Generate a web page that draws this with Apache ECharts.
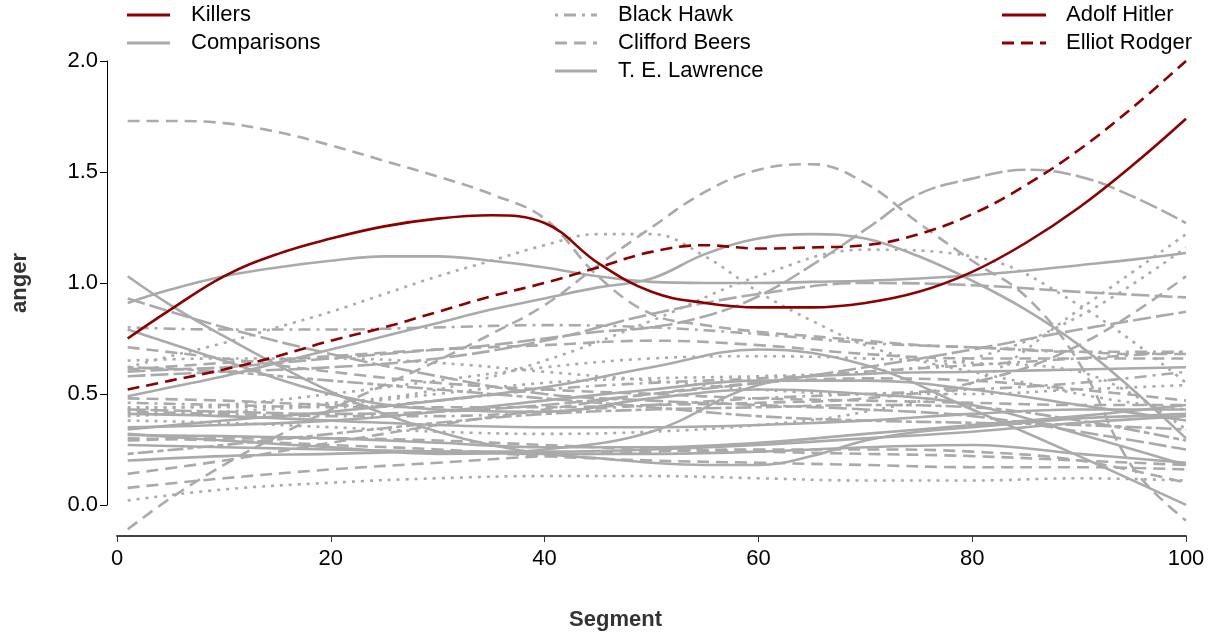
<!DOCTYPE html>
<html>
<head>
<meta charset="utf-8">
<script src="https://cdn.jsdelivr.net/npm/echarts@6/dist/echarts.min.js"></script>
<style>
html,body{margin:0;padding:0;background:#fff;}
#chart{width:1215px;height:637px;}
</style>
</head>
<body>
<div id="chart"></div>
<script>
// ---- x positions (segments) ----
const segFine = [1,5,10,15,20,25,30,35,40,45,50,55,60,65,70,75,80,85,90,95,100];
const segCoarse = [1,10,20,30,40,50,60,70,80,90,100];

// ---- killers ----
const adolfHitler  = [0.75,0.88,1.03,1.13,1.20,1.255,1.29,1.305,1.27,1.09,0.96,0.91,0.89,0.89,0.91,0.96,1.05,1.18,1.34,1.53,1.74];
const elliotRodger = [0.52,0.56,0.61,0.67,0.74,0.80,0.87,0.94,1.00,1.07,1.14,1.17,1.155,1.16,1.17,1.22,1.31,1.44,1.60,1.79,2.00];

// ---- comparisons (fine grid) ----
const compA = [1.73,1.73,1.72,1.68,1.62,1.55,1.48,1.40,1.29,1.03,0.86,0.81,0.78,0.76,0.74,0.72,0.71,0.70,0.69,0.68,0.68];
const cliffordBeers = [-0.11,0.03,0.18,0.31,0.43,0.54,0.65,0.77,0.90,1.08,1.25,1.41,1.51,1.535,1.45,1.27,1.10,0.94,0.64,0.17,-0.07];
const compC = [0.60,0.61,0.62,0.64,0.66,0.68,0.70,0.72,0.75,0.78,0.80,0.85,0.94,1.08,1.24,1.40,1.47,1.51,1.48,1.39,1.27];
const compD = [0.62,0.67,0.73,0.80,0.87,0.95,1.03,1.10,1.17,1.22,1.22,1.12,0.96,0.83,0.72,0.65,0.60,0.55,0.50,0.46,0.43];
const teLawrence = [0.91,0.97,1.03,1.07,1.10,1.12,1.12,1.10,1.07,1.03,1.005,1.0,1.0,1.005,1.01,1.02,1.035,1.055,1.08,1.105,1.135];
const compF = [1.03,0.90,0.76,0.63,0.51,0.41,0.33,0.27,0.23,0.21,0.19,0.18,0.18,0.22,0.29,0.33,0.35,0.37,0.39,0.40,0.41];
const compG = [0.49,0.53,0.58,0.64,0.70,0.76,0.82,0.88,0.93,0.98,1.02,1.13,1.20,1.22,1.20,1.12,1.01,0.88,0.72,0.52,0.30];

// ---- comparisons (coarse grid) ----
const compH  = [0.34,0.38,0.42,0.47,0.53,0.62,0.70,0.63,0.43,0.22,0.00];
const compN  = [0.32,0.29,0.26,0.23,0.25,0.33,0.54,0.59,0.60,0.61,0.62];
const compE2 = [0.58,0.60,0.62,0.66,0.74,0.86,0.95,1.00,0.99,0.96,0.935];
const compI  = [0.93,0.80,0.68,0.58,0.50,0.47,0.45,0.43,0.40,0.33,0.25];
const blackHawk = [0.80,0.79,0.79,0.80,0.81,0.80,0.77,0.73,0.71,0.69,0.69];
const compK  = [0.79,0.65,0.50,0.43,0.42,0.48,0.52,0.50,0.45,0.32,0.18];
const compL  = [0.44,0.44,0.46,0.52,0.65,0.83,1.03,1.15,1.12,0.90,0.55];
const compM  = [0.38,0.37,0.35,0.33,0.32,0.33,0.36,0.42,0.55,0.88,1.22];
const comp4  = [0.71,0.66,0.60,0.55,0.52,0.50,0.48,0.47,0.46,0.45,0.45];
const comp5  = [0.65,0.66,0.66,0.64,0.60,0.56,0.52,0.50,0.50,0.52,0.54];
const comp6  = [0.61,0.64,0.67,0.70,0.72,0.74,0.72,0.68,0.66,0.66,0.66];
const comp8  = [0.46,0.45,0.44,0.47,0.52,0.55,0.57,0.60,0.63,0.66,0.69];
const comp9  = [0.43,0.42,0.41,0.42,0.45,0.50,0.55,0.62,0.70,0.79,0.87];
const comp10 = [0.41,0.40,0.38,0.36,0.35,0.35,0.36,0.38,0.41,0.43,0.43];
const comp12 = [0.35,0.36,0.38,0.42,0.47,0.52,0.56,0.56,0.52,0.45,0.38];
const comp13 = [0.315,0.31,0.30,0.28,0.26,0.26,0.28,0.32,0.36,0.40,0.45];
const comp14 = [0.29,0.30,0.30,0.29,0.27,0.25,0.24,0.23,0.22,0.20,0.18];
const comp15 = [0.27,0.26,0.25,0.24,0.23,0.23,0.24,0.26,0.27,0.23,0.19];
const comp16 = [0.23,0.27,0.32,0.37,0.41,0.43,0.44,0.45,0.44,0.38,0.29];
const comp17 = [0.20,0.22,0.23,0.24,0.24,0.25,0.27,0.30,0.33,0.37,0.40];
const comp18 = [0.14,0.20,0.28,0.36,0.43,0.50,0.55,0.57,0.56,0.52,0.47];
const comp19 = [0.077,0.12,0.16,0.19,0.22,0.24,0.25,0.25,0.24,0.20,0.10];
const comp20 = [0.02,0.07,0.10,0.12,0.13,0.13,0.12,0.11,0.11,0.12,0.11];
const comp21 = [0.40,0.42,0.45,0.50,0.55,0.57,0.58,0.60,0.66,0.85,1.16];
const comp22 = [0.48,0.47,0.45,0.44,0.44,0.45,0.46,0.48,0.55,0.72,1.03];
const comp23 = [0.42,0.41,0.40,0.40,0.42,0.45,0.48,0.50,0.52,0.55,0.60];
const comp24 = [0.43,0.45,0.50,0.56,0.62,0.66,0.67,0.66,0.64,0.60,0.34];
const comp25 = [0.30,0.29,0.27,0.25,0.22,0.20,0.19,0.18,0.17,0.17,0.16];
const comp26 = [0.62,0.60,0.56,0.52,0.48,0.44,0.40,0.38,0.37,0.36,0.34];

// tick labels
const yTicks = ['0.0','0.5','1.0','1.5','2.0'];
const xTicks = ['0','20','40','60','80','100'];

// ---- series list (data + x grid) ----
const comparisons = [
  ['Comparison A', segFine, compA],
  ['Clifford Beers', segFine, cliffordBeers],
  ['Comparison C', segFine, compC],
  ['Comparison D', segFine, compD],
  ['T. E. Lawrence', segFine, teLawrence],
  ['Comparison F', segFine, compF],
  ['Comparison G', segFine, compG],
  ['Comparison H', segCoarse, compH],
  ['Comparison N', segCoarse, compN],
  ['Comparison E2', segCoarse, compE2],
  ['Comparison I', segCoarse, compI],
  ['Black Hawk', segCoarse, blackHawk],
  ['Comparison K', segCoarse, compK],
  ['Comparison L', segCoarse, compL],
  ['Comparison M', segCoarse, compM],
  ['Comparison 4', segCoarse, comp4],
  ['Comparison 5', segCoarse, comp5],
  ['Comparison 6', segCoarse, comp6],
  ['Comparison 8', segCoarse, comp8],
  ['Comparison 9', segCoarse, comp9],
  ['Comparison 10', segCoarse, comp10],
  ['Comparison 12', segCoarse, comp12],
  ['Comparison 13', segCoarse, comp13],
  ['Comparison 14', segCoarse, comp14],
  ['Comparison 15', segCoarse, comp15],
  ['Comparison 16', segCoarse, comp16],
  ['Comparison 17', segCoarse, comp17],
  ['Comparison 18', segCoarse, comp18],
  ['Comparison 19', segCoarse, comp19],
  ['Comparison 20', segCoarse, comp20],
  ['Comparison 21', segCoarse, comp21],
  ['Comparison 22', segCoarse, comp22],
  ['Comparison 23', segCoarse, comp23],
  ['Comparison 24', segCoarse, comp24],
  ['Comparison 25', segCoarse, comp25],
  ['Comparison 26', segCoarse, comp26]
];
// line types, one per comparison (style, kept apart from data)
const comparisonTypes = [
  'dashed','dashed','longdash','dotted','solid','solid','solid',
  'solid','solid','longdash','longdash','dotdash','solid','dotted','dotted',
  'dashed','dotted','dashed','dotdash','longdash','solid','solid','solid',
  'dashed','solid','twodash','solid','dashed','dashed','dotted','dotted',
  'dashed','dotdash','dotted','dashed','twodash'
];

const DASH = {
  solid: 'solid',
  dashed: [12, 7],
  dotted: [3, 6],
  dotdash: [3, 6, 12, 6],
  longdash: [18, 5],
  twodash: [6, 4, 16, 4]
};
const GRAY = '#aaaaaa';
const RED = '#8b0000';
const FONT = '"Liberation Sans", Arial, sans-serif';

function pairs(xs, ys) { return xs.map((x, i) => [x, ys[i]]); }

const series = [];
comparisons.forEach((c, i) => {
  series.push({
    name: c[0], type: 'line', xAxisIndex: 0, yAxisIndex: 0,
    data: pairs(c[1], c[2]), smooth: 0.4, showSymbol: false, silent: true,
    lineStyle: { color: GRAY, width: 2.6, type: DASH[comparisonTypes[i]], cap: 'butt' },
    z: 2
  });
});
series.push({
  name: 'Adolf Hitler', type: 'line', xAxisIndex: 0, yAxisIndex: 0,
  data: pairs(segFine, adolfHitler), smooth: 0.4, showSymbol: false, silent: true,
  lineStyle: { color: RED, width: 2.6, type: 'solid' }, z: 5
});
series.push({
  name: 'Elliot Rodger', type: 'line', xAxisIndex: 0, yAxisIndex: 0,
  data: pairs(segFine, elliotRodger), smooth: 0.4, showSymbol: false, silent: true,
  lineStyle: { color: RED, width: 2.6, type: DASH.dashed, cap: 'butt' }, z: 5
});

// legend drawn as graphic
const legendItems = [
  { label: 'Killers', color: RED, type: 'solid', col: 0, row: 0 },
  { label: 'Comparisons', color: GRAY, type: 'solid', col: 0, row: 1 },
  { label: 'Black Hawk', color: GRAY, type: 'dotdash', col: 1, row: 0 },
  { label: 'Clifford Beers', color: GRAY, type: 'dashed', col: 1, row: 1 },
  { label: 'T. E. Lawrence', color: GRAY, type: 'solid', col: 1, row: 2 },
  { label: 'Adolf Hitler', color: RED, type: 'solid', col: 2, row: 0 },
  { label: 'Elliot Rodger', color: RED, type: 'dashed', col: 2, row: 1 }
];
const legCols = [{ x1: 127, x2: 170, tx: 191 }, { x1: 555, x2: 597, tx: 618 }, { x1: 1002, x2: 1046, tx: 1066 }];
const legRows = [15, 43, 71];
const graphics = [];
legendItems.forEach(it => {
  const c = legCols[it.col], y = legRows[it.row];
  const d = DASH[it.type];
  graphics.push({
    type: 'line', shape: { x1: c.x1, y1: y, x2: c.x2, y2: y },
    style: { stroke: it.color, lineWidth: 2.8, lineDash: d === 'solid' ? null : d }
  });
  graphics.push({
    type: 'text', x: c.tx, y: y,
    style: { text: it.label, fill: '#000', font: '22px ' + FONT,
             textAlign: 'left', textVerticalAlign: 'middle', align: 'left', verticalAlign: 'middle' }
  });
});

const chart = echarts.init(document.getElementById('chart'), null, { renderer: 'canvas' });
chart.setOption({
  animation: false,
  backgroundColor: '#ffffff',
  grid: [
    { left: 117, right: 29, top: 61, bottom: 101 },
    { left: 107, width: 10, top: 61, bottom: 132 }
  ],
  xAxis: [
    {
      type: 'value', gridIndex: 0, min: 0, max: 100, interval: 20,
      name: 'Segment', nameLocation: 'middle', nameGap: 73,
      nameTextStyle: { fontFamily: FONT, fontSize: 22, fontWeight: 'bold', color: '#333', padding: [0, 72, 0, 0] },
      axisLine: { onZero: false, lineStyle: { color: '#444', width: 2 } },
      axisTick: { length: 6, lineStyle: { color: '#333', width: 1 } },
      axisLabel: { fontFamily: FONT, fontSize: 22, color: '#000', margin: 12,
                   formatter: v => xTicks[Math.round(v / 20)] },
      splitLine: { show: false }
    },
    { type: 'value', gridIndex: 1, min: 0, max: 1, show: false }
  ],
  yAxis: [
    { type: 'value', gridIndex: 0, min: -0.14, max: 2.0, show: false },
    {
      type: 'value', gridIndex: 1, min: 0, max: 2, interval: 0.5,
      name: 'anger', nameLocation: 'middle', nameGap: 76,
      nameTextStyle: { fontFamily: FONT, fontSize: 22, fontWeight: 'bold', color: '#333' },
      axisLine: { show: true, lineStyle: { color: '#000', width: 1 } },
      axisTick: { show: true, length: 7, lineStyle: { color: '#000', width: 1 } },
      axisLabel: { fontFamily: FONT, fontSize: 22, color: '#000', margin: 9,
                   formatter: v => yTicks[Math.round(v / 0.5)] },
      splitLine: { show: false }
    }
  ],
  graphic: graphics,
  series: series
});
</script>
</body>
</html>
